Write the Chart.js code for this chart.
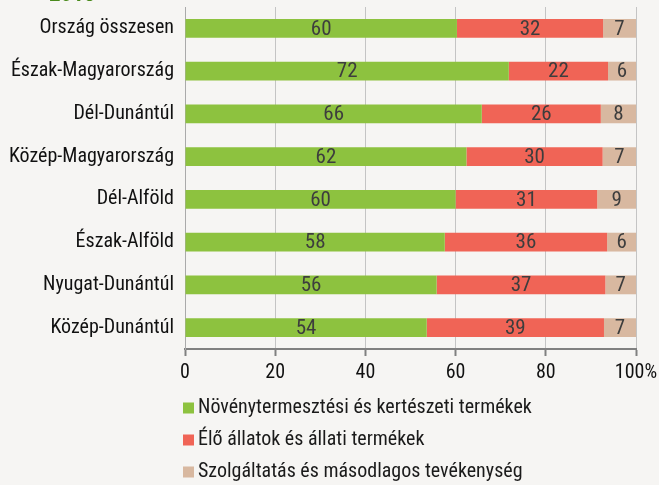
<!DOCTYPE html>
<html>
<head>
<meta charset="utf-8">
<script src="https://cdn.jsdelivr.net/npm/chart.js@4"></script>
<style>
  html, body { margin: 0; padding: 0; background: #f6f5f3; }
  #wrap { position: relative; width: 659px; height: 485px; overflow: hidden; }
  #year {
    position: absolute; left: 49px; top: -20px;
    font: bold 23px "Roboto Condensed", "Liberation Sans", sans-serif;
    color: #4a8a1c;
  }
</style>
</head>
<body>
<div id="wrap">
  <div id="year">2018</div>
  <canvas id="chart" width="659" height="485"></canvas>
</div>
<script>
const FONT = '"Roboto Condensed", "Liberation Sans", sans-serif';

const regions = [
  "Ország összesen",
  "Észak-Magyarország",
  "Dél-Dunántúl",
  "Közép-Magyarország",
  "Dél-Alföld",
  "Észak-Alföld",
  "Nyugat-Dunántúl",
  "Közép-Dunántúl"
];
const cropShare = [60.3, 71.8, 65.8, 62.4, 60.0, 57.6, 55.8, 53.6];
const animalShare = [32.4, 22.0, 26.4, 30.2, 31.4, 36.0, 37.4, 39.3];
const serviceShare = [7.3, 6.2, 7.8, 7.4, 8.6, 6.4, 6.8, 7.1];
const seriesNames = [
  "Növénytermesztési és kertészeti termékek",
  "Élő állatok és állati termékek",
  "Szolgáltatás és másodlagos tevékenység"
];
const xTicks = [0, 20, 40, 60, 80, 100];

const colors = ["#8dc23f", "#f06456", "#d8b8a0"];

// value labels in the middle of each segment
const barLabels = {
  id: "barLabels",
  afterDatasetsDraw(chart) {
    const ctx = chart.ctx;
    ctx.save();
    ctx.font = `21px ${FONT}`;
    ctx.fillStyle = "#3d3d3d";
    ctx.textAlign = "center";
    ctx.textBaseline = "middle";
    chart.data.datasets.forEach((ds, i) => {
      chart.getDatasetMeta(i).data.forEach((bar, j) => {
        const x = (bar.x + bar.base) / 2;
        ctx.fillText(String(Math.round(ds.data[j])), x, bar.y + 1);
      });
    });
    ctx.restore();
  }
};

// legend stacked under the axis
const stackLegend = {
  id: "stackLegend",
  afterDraw(chart) {
    const ctx = chart.ctx;
    const left = chart.chartArea.left - 2;
    const top = chart.scales.x.bottom + 18;
    ctx.save();
    ctx.font = `20px ${FONT}`;
    ctx.textBaseline = "middle";
    ctx.textAlign = "left";
    chart.data.datasets.forEach((ds, i) => {
      const y = top + i * 32;
      ctx.fillStyle = ds.backgroundColor;
      ctx.fillRect(left, y - 5.5, 11, 11);
      ctx.fillStyle = "#1a1a1a";
      ctx.fillText(ds.label, left + 15, y);
    });
    ctx.restore();
  }
};

new Chart(document.getElementById("chart"), {
  type: "bar",
  data: {
    labels: regions,
    datasets: [
      { label: seriesNames[0], data: cropShare, backgroundColor: colors[0] },
      { label: seriesNames[1], data: animalShare, backgroundColor: colors[1] },
      { label: seriesNames[2], data: serviceShare, backgroundColor: colors[2] }
    ]
  },
  options: {
    indexAxis: "y",
    responsive: false,
    animation: false,
    barPercentage: 0.44,
    categoryPercentage: 1,
    layout: {
      padding: { top: 7, right: 23, bottom: 95, left: 0 }
    },
    plugins: {
      legend: { display: false },
      tooltip: { enabled: false }
    },
    scales: {
      x: {
        stacked: true,
        min: 0,
        max: 100,
        afterBuildTicks(scale) {
          scale.ticks = xTicks.map((v) => ({ value: v }));
        },
        afterFit(scale) {
          scale.paddingLeft = 0;
          scale.paddingRight = 0;
        },
        ticks: {
          color: "#111",
          padding: 5,
          font: { family: FONT, size: 20 },
          callback: (v) => (v === 100 ? "100%" : v)
        },
        grid: {
          color: "#c4c4c4",
          lineWidth: 1,
          tickColor: "#808080",
          tickWidth: 2,
          tickLength: 7
        },
        border: { color: "#808080", width: 2 }
      },
      y: {
        stacked: true,
        afterFit(scale) {
          scale.width = 185;
          scale.paddingTop = 0;
          scale.paddingBottom = 0;
        },
        ticks: {
          color: "#111",
          padding: 11,
          font: { family: FONT, size: 20 }
        },
        grid: { display: false, drawTicks: false },
        border: { color: "#aaaaaa", width: 1 }
      }
    }
  },
  plugins: [barLabels, stackLegend]
});
</script>
</body>
</html>
